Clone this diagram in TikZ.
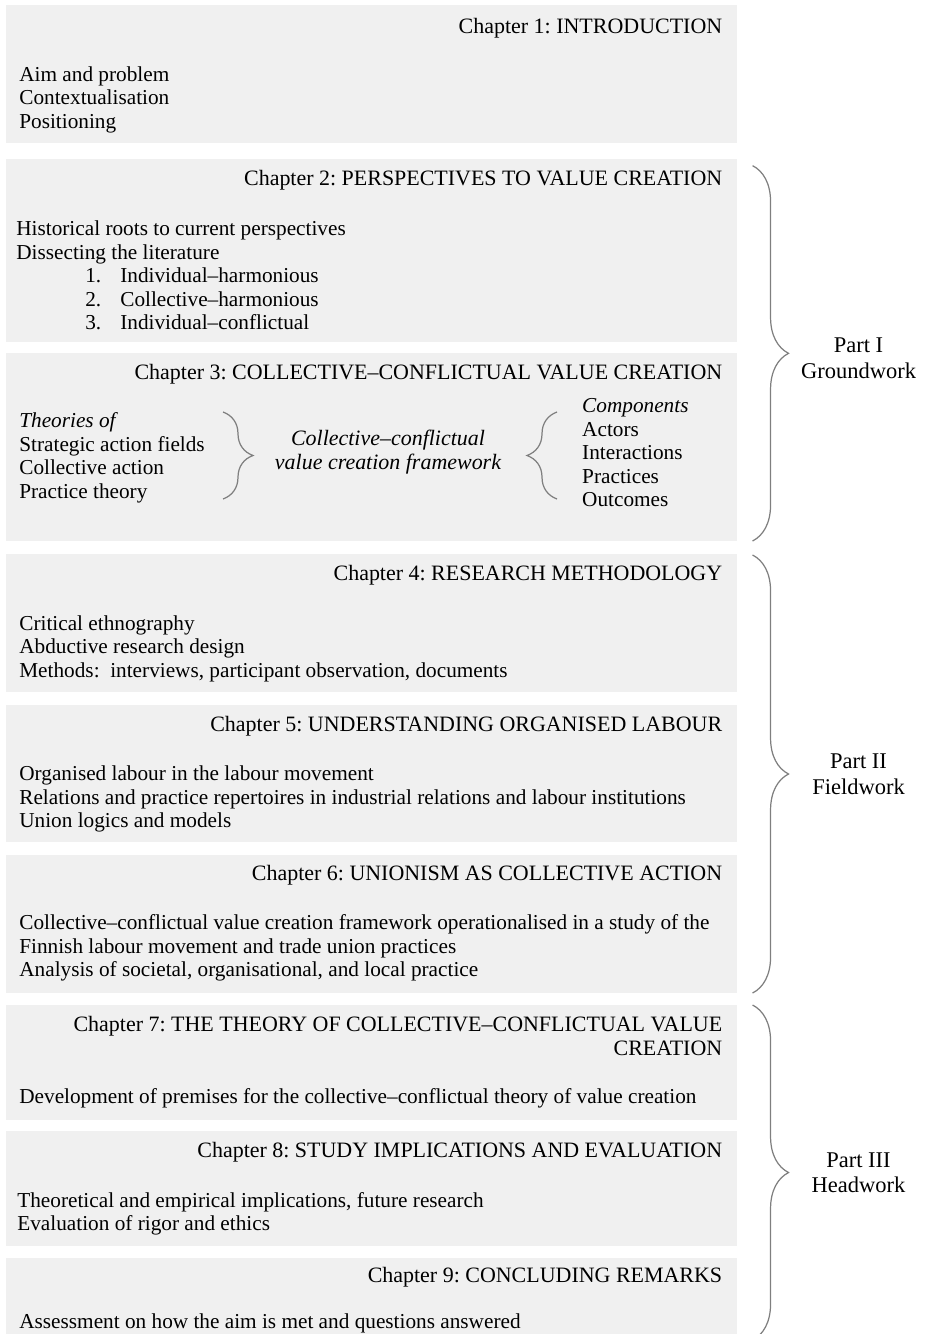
\documentclass[tikz,border=0pt]{standalone}
\usepackage{fontspec}
\setmainfont{Liberation Serif}
\frenchspacing
\usetikzlibrary{positioning,decorations.pathreplacing}
\definecolor{boxgray}{HTML}{F0F0F0}
\definecolor{bracegray}{HTML}{7F7F7F}

\begin{document}
\begin{tikzpicture}[x=0.02cm, y=-0.02cm,
    chap/.style={fill=boxgray, minimum width=14.62cm, inner sep=0pt},
    head/.style={anchor=east, inner sep=0pt, align=right, font=\fontsize{12.5}{13.4}\selectfont},
    body/.style={anchor=north west, inner sep=0pt, align=left, font=\fontsize{12.1}{13.4}\selectfont},
    part/.style={align=center, font=\fontsize{12.8}{14.5}\selectfont},
    bigbrace/.style={draw=bracegray, line width=0.7pt, decorate, decoration={brace, amplitude=0.72cm}},
    smallbrace/.style={draw=bracegray, line width=0.7pt, decorate, decoration={brace, amplitude=0.6cm}}]
    \useasboundingbox (0,0) rectangle (926,1334);

    % Chapter boxes
    \node[chap, anchor=north west, minimum height=2.76cm] (ch1) at (6,5) {};
    \node[chap, below=0.3cm of ch1, minimum height=3.66cm] (ch2) {};
    \node[chap, below=0.2cm of ch2, minimum height=3.76cm] (ch3) {};
    \node[chap, below=0.26cm of ch3, minimum height=2.76cm] (ch4) {};
    \node[chap, below=0.24cm of ch4, minimum height=2.74cm] (ch5) {};
    \node[chap, below=0.24cm of ch5, minimum height=2.76cm] (ch6) {};
    \node[chap, below=0.24cm of ch6, minimum height=2.3cm] (ch7) {};
    \node[chap, below=0.2cm of ch7, minimum height=2.3cm] (ch8) {};
    \node[chap, below=0.22cm of ch8, minimum height=1.64cm] (ch9) {};

    % Headings
    \node[head] (h1) at ([xshift=-0.3cm, yshift=-0.46cm]ch1.north east) {Chapter 1: INTRODUCTION};
    \node[head] (h2) at ([xshift=-0.3cm, yshift=-0.44cm]ch2.north east) {Chapter 2: PERSPECTIVES TO VALUE CREATION};
    \node[head] (h3) at ([xshift=-0.3cm, yshift=-0.44cm]ch3.north east) {Chapter 3: COLLECTIVE–CONFLICTUAL VALUE CREATION};
    \node[head] (h4) at ([xshift=-0.3cm, yshift=-0.42cm]ch4.north east) {Chapter 4: RESEARCH METHODOLOGY};
    \node[head] (h5) at ([xshift=-0.3cm, yshift=-0.44cm]ch5.north east) {Chapter 5: UNDERSTANDING ORGANISED LABOUR};
    \node[head] (h6) at ([xshift=-0.3cm, yshift=-0.42cm]ch6.north east) {Chapter 6: UNIONISM AS COLLECTIVE ACTION};
    \node[head] (h7) at ([xshift=-0.3cm, yshift=-0.62cm]ch7.north east) {Chapter 7: THE THEORY OF COLLECTIVE–CONFLICTUAL VALUE\\CREATION};
    \node[head] (h8) at ([xshift=-0.3cm, yshift=-0.44cm]ch8.north east) {Chapter 8: STUDY IMPLICATIONS AND EVALUATION};
    \node[head] (h9) at ([xshift=-0.3cm, yshift=-0.4cm]ch9.north east) {Chapter 9: CONCLUDING REMARKS};

    % Contents
    \node[body] (b1) at ([xshift=0.26cm, yshift=-1.22cm]ch1.north west) {Aim and problem\\Contextualisation\\Positioning};
    \node[body] (b2) at ([xshift=0.2cm, yshift=-1.24cm]ch2.north west) {Historical roots to current perspectives\\Dissecting the literature\\
        \hspace*{1.38cm}\makebox[0.7cm][l]{1.}Individual–harmonious\\
        \hspace*{1.38cm}\makebox[0.7cm][l]{2.}Collective–harmonious\\
        \hspace*{1.38cm}\makebox[0.7cm][l]{3.}Individual–conflictual};
    \node[body] (b3l) at ([xshift=0.26cm, yshift=-1.2cm]ch3.north west) {\textit{Theories of}\\Strategic action fields\\Collective action\\Practice theory};
    \node[align=center, inner sep=0pt, font=\fontsize{12.5}{13.4}\selectfont\itshape] (b3m) at (388,452) {Collective–conflictual\\value creation framework};
    \node[body] (b3r) at ([xshift=11.52cm, yshift=-0.92cm]ch3.north west) {\textit{Components}\\Actors\\Interactions\\Practices\\Outcomes};
    \node[body] (b4) at ([xshift=0.26cm, yshift=-1.22cm]ch4.north west) {Critical ethnography\\Abductive research design\\Methods: \ interviews, participant observation, documents};
    \node[body] (b5) at ([xshift=0.26cm, yshift=-1.22cm]ch5.north west) {Organised labour in the labour movement\\Relations and practice repertoires in industrial relations and labour institutions\\Union logics and models};
    \node[body] (b6) at ([xshift=0.26cm, yshift=-1.2cm]ch6.north west) {Collective–conflictual value creation framework operationalised in a study of the\\Finnish labour movement and trade union practices\\Analysis of societal, organisational, and local practice};
    \node[body] (b7) at ([xshift=0.26cm, yshift=-1.66cm]ch7.north west) {Development of premises for the collective–conflictual theory of value creation};
    \node[body] (b8) at ([xshift=0.22cm, yshift=-1.22cm]ch8.north west) {Theoretical and empirical implications, future research\\Evaluation of rigor and ethics};
    \node[body] (b9) at ([xshift=0.26cm, yshift=-1.12cm]ch9.north west) {Assessment on how the aim is met and questions answered};

    % Braces inside chapter 3
    \coordinate (t1) at (223,412);
    \coordinate (t2) at (223,499);
    \coordinate (c1) at (557,499);
    \coordinate (c2) at (557,412);
    \draw[smallbrace] (t1) -- (t2);
    \draw[smallbrace] (c1) -- (c2);

    % Parts
    \draw[bigbrace] ([xshift=0.3cm, yshift=-0.14cm]ch2.north east) -- ([xshift=0.3cm]ch3.south east)
        node[part, midway, xshift=2.12cm, yshift=-0.1cm] (p1) {Part I\\Groundwork};
    \draw[bigbrace] ([xshift=0.3cm, yshift=-0.02cm]ch4.north east) -- ([xshift=0.3cm]ch6.south east)
        node[part, midway, xshift=2.12cm] (p2) {Part II\\Fieldwork};
    \draw[bigbrace] ([xshift=0.3cm]ch7.north east) -- ([xshift=0.3cm]ch9.south east)
        node[part, midway, xshift=2.12cm] (p3) {Part III\\Headwork};
\end{tikzpicture}
\end{document}
